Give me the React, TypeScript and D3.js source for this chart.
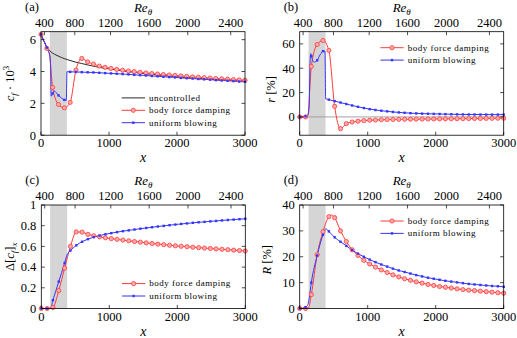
import React from "react";
import * as d3 from "d3";

type Pt = [number, number];

// stations where the markers sit
const markX = [0, 86, 171, 257, 343, 429, 514, 600, 686, 771, 857, 943, 1029, 1114, 1200, 1286, 1371, 1457,
  1543, 1629, 1714, 1800, 1886, 1971, 2057, 2143, 2229, 2314, 2400, 2486, 2571, 2657, 2743, 2829, 2914, 3000];
const controlRegion = [130, 380];
const xTicks = [0, 1000, 2000, 3000];
const reTicks = [400, 800, 1200, 1600, 2000, 2400];
const reTickX = [50, 497, 1022, 1586, 2158, 2790];

const cfUncontrolled: Pt[] = [[0, 6.35], [25, 6.05], [50, 5.85], [100, 5.45], [150, 5.22], [200, 5.08], [250, 4.98],
  [300, 4.88], [400, 4.73], [500, 4.6], [600, 4.5], [700, 4.4], [800, 4.31], [900, 4.23], [1000, 4.17], [1200, 4.04],
  [1400, 3.93], [1600, 3.83], [1800, 3.75], [2000, 3.67], [2200, 3.6], [2400, 3.54], [2600, 3.49], [2800, 3.44], [3000, 3.4]];
const cfBodyForce: Pt[] = [[0, 6.33], [86, 5.45], [128, 5.0], [150, 3.9], [171, 3.0], [257, 1.93], [343, 1.72],
  [429, 2.06], [514, 4.09], [600, 4.82], [686, 4.6], [771, 4.47], [857, 4.34], [943, 4.26], [1029, 4.19], [1114, 4.13],
  [1200, 4.08], [1286, 4.03], [1371, 3.99], [1457, 3.95], [1543, 3.91], [1629, 3.87], [1714, 3.84], [1800, 3.81],
  [1886, 3.78], [1971, 3.75], [2057, 3.72], [2143, 3.69], [2229, 3.66], [2314, 3.64], [2400, 3.61], [2486, 3.59],
  [2571, 3.56], [2657, 3.54], [2743, 3.52], [2829, 3.49], [2914, 3.47], [3000, 3.45]];
const cfBlowing: Pt[] = [[0, 6.33], [86, 5.5], [125, 5.1], [140, 4.5], [150, 2.45], [171, 2.62], [196, 2.77],
  [257, 2.5], [343, 2.22], [372, 2.18], [382, 3.99], [429, 3.98], [514, 3.97], [600, 3.96], [686, 3.95], [771, 3.94],
  [857, 3.92], [943, 3.9], [1029, 3.88], [1114, 3.86], [1200, 3.84], [1286, 3.82], [1371, 3.79], [1457, 3.77],
  [1543, 3.75], [1629, 3.72], [1714, 3.7], [1800, 3.67], [1886, 3.65], [1971, 3.63], [2057, 3.6], [2143, 3.58],
  [2229, 3.56], [2314, 3.53], [2400, 3.51], [2486, 3.49], [2571, 3.46], [2657, 3.44], [2743, 3.42], [2829, 3.4],
  [2914, 3.37], [3000, 3.35]];

const rBodyForce: Pt[] = [[0, 0], [86, 0], [125, 1], [150, 25], [171, 41.5], [257, 59.5], [343, 62.8], [429, 54.6],
  [514, 8.7], [600, -9.6], [686, -5.5], [771, -4.2], [857, -3.5], [943, -3.0], [1029, -2.7], [1114, -2.5], [1200, -2.3],
  [1286, -2.2], [1371, -2.1], [1457, -2.0], [1543, -1.9], [1629, -1.85], [1714, -1.8], [1800, -1.75], [1886, -1.7],
  [1971, -1.65], [2057, -1.6], [2143, -1.55], [2229, -1.5], [2314, -1.45], [2400, -1.4], [2486, -1.35], [2571, -1.3],
  [2657, -1.25], [2743, -1.2], [2829, -1.15], [2914, -1.1], [3000, -1.05]];
const rBlowing: Pt[] = [[0, 0], [86, 0.5], [120, 2], [140, 10], [152, 45], [162, 52], [171, 50], [210, 45],
  [257, 46.5], [300, 51], [343, 54], [372, 54], [382, 15], [429, 14.2], [514, 13], [600, 11.8], [686, 10.6],
  [771, 9.4], [857, 8.3], [943, 7.3], [1029, 6.4], [1114, 5.7], [1200, 5.1], [1286, 4.6], [1371, 4.1], [1457, 3.7],
  [1543, 3.4], [1629, 3.1], [1714, 2.9], [1800, 2.7], [1886, 2.6], [1971, 2.5], [2057, 2.4], [2143, 2.3], [2229, 2.2],
  [2314, 2.1], [2400, 2.05], [2486, 2.0], [2571, 2.0], [2657, 1.95], [2743, 1.95], [2829, 1.9], [2914, 1.9], [3000, 1.9]];

const dcfBodyForce: Pt[] = [[0, 0], [86, 0], [171, 0.01], [257, 0.174], [343, 0.39], [429, 0.6], [514, 0.74],
  [600, 0.738], [686, 0.716], [771, 0.703], [857, 0.692], [943, 0.683], [1029, 0.675], [1114, 0.668], [1200, 0.661],
  [1286, 0.654], [1371, 0.647], [1457, 0.641], [1543, 0.634], [1629, 0.628], [1714, 0.622], [1800, 0.617],
  [1886, 0.611], [1971, 0.606], [2057, 0.601], [2143, 0.597], [2229, 0.592], [2314, 0.588], [2400, 0.584],
  [2486, 0.58], [2571, 0.576], [2657, 0.572], [2743, 0.568], [2829, 0.564], [2914, 0.56], [3000, 0.556]];
const dcfBlowing: Pt[] = [[0, 0], [86, 0], [135, 0], [171, 0.08], [257, 0.26], [343, 0.44], [377, 0.515],
  [429, 0.56], [514, 0.61], [600, 0.645], [686, 0.67], [771, 0.69], [857, 0.705], [943, 0.717], [1029, 0.728],
  [1114, 0.738], [1200, 0.747], [1286, 0.755], [1371, 0.763], [1457, 0.771], [1543, 0.778], [1629, 0.785],
  [1714, 0.792], [1800, 0.798], [1886, 0.805], [1971, 0.811], [2057, 0.817], [2143, 0.822], [2229, 0.828],
  [2314, 0.833], [2400, 0.837], [2486, 0.842], [2571, 0.846], [2657, 0.851], [2743, 0.855], [2829, 0.859],
  [2914, 0.863], [3000, 0.867]];

const RBodyForce: Pt[] = [[0, 0], [86, 0], [130, 0.3], [171, 5.4], [257, 20.8], [343, 29.7], [429, 35.5],
  [470, 36.1], [514, 35.1], [600, 30], [686, 25.9], [771, 22.7], [857, 20.5], [943, 18.6], [1029, 17.2],
  [1114, 16.0], [1200, 14.9], [1286, 13.9], [1371, 13.0], [1457, 12.2], [1543, 11.5], [1629, 10.9], [1714, 10.3],
  [1800, 9.8], [1886, 9.3], [1971, 8.9], [2057, 8.5], [2143, 8.2], [2229, 7.9], [2314, 7.6], [2400, 7.3],
  [2486, 7.1], [2571, 6.9], [2657, 6.7], [2743, 6.5], [2829, 6.3], [2914, 6.1], [3000, 5.9]];
const RBlowing: Pt[] = [[0, 0], [86, 0.5], [120, 1.5], [140, 4], [171, 10], [257, 20.5], [343, 28.5],
  [385, 30.8], [429, 29.8], [514, 27.5], [600, 25.8], [686, 24.2], [771, 22.6], [857, 21.2], [943, 20.0],
  [1029, 18.9], [1114, 17.9], [1200, 17.0], [1286, 16.2], [1371, 15.4], [1457, 14.7], [1543, 14.1], [1629, 13.5],
  [1714, 12.9], [1800, 12.4], [1886, 11.9], [1971, 11.5], [2057, 11.1], [2143, 10.7], [2229, 10.4], [2314, 10.1],
  [2400, 9.8], [2486, 9.5], [2571, 9.3], [2657, 9.1], [2743, 8.9], [2829, 8.7], [2914, 8.6], [3000, 8.4]];

const RED = "#ff3a3a";
const BLUE = "#3535ff";
const FONT = "'Liberation Serif', 'DejaVu Serif', serif";
const W = 204;
const H = 103.5;
const markSet = new Set(markX);

type Series = { data: Pt[]; color: string; mark?: "o" | "s"; label: string };

const Marker = ({ kind, cx, cy, color }: { kind?: string; cx: number; cy: number; color: string }) => {
  if (kind === "o") return <circle cx={cx} cy={cy} r={2.1} fill="#ffaaaa" stroke={color} strokeWidth={0.8} />;
  if (kind === "s") return <rect x={cx - 1.2} y={cy - 1.2} width={2.4} height={2.4} fill={color} />;
  return null;
};

const Panel = (props: {
  id: string; left: number; top: number; yDomain: [number, number]; yTicks: number[];
  tag: string; yLabel: React.ReactNode; yLabelX: number; yLabelDy?: number; series: Series[];
  legendTop: boolean; zeroLine?: boolean;
}) => {
  const { id, left, top, yDomain, yTicks, tag, yLabel, yLabelX, yLabelDy = 0, series, legendTop, zeroLine } = props;
  const bottom = top + H;
  const right = left + W;
  const x = d3.scaleLinear().domain([0, 3000]).range([left, right]);
  const y = d3.scaleLinear().domain(yDomain).range([bottom, top]);
  const re = d3.scaleLinear().domain(reTicks).range(reTickX.map((v) => x(v)));
  const line = d3.line<Pt>().x((d) => x(d[0])).y((d) => y(d[1])).curve(d3.curveMonotoneX);
  const tl = 3.5;
  const rowY = (i: number) =>
    legendTop ? top + 16 + i * 12.4 : bottom - 12.5 - (series.length - 1 - i) * 12.4;

  return (
    <g fontFamily={FONT}>
      <defs>
        <clipPath id={`clip-${id}`}>
          <rect x={left} y={top} width={W} height={H} />
        </clipPath>
      </defs>
      <rect x={x(controlRegion[0])} y={top} width={x(controlRegion[1]) - x(controlRegion[0])} height={H} fill="#d5d5d5" />
      {zeroLine && <line x1={left} x2={right} y1={y(0)} y2={y(0)} stroke="#9a9a9a" strokeWidth={0.9} />}
      <g clipPath={`url(#clip-${id})`}>
        {series.map((s, i) => (
          <path key={i} d={line(s.data) || ""} fill="none" stroke={s.color} strokeWidth={1} />
        ))}
      </g>
      {series.map((s, i) =>
        s.mark
          ? s.data.filter((d) => markSet.has(d[0])).map((d, j) => (
              <Marker key={`${i}-${j}`} kind={s.mark} cx={x(d[0])} cy={y(d[1])} color={s.color} />
            ))
          : null
      )}
      <rect x={left} y={top} width={W} height={H} fill="none" stroke="#000" strokeWidth={0.8} />
      {yTicks.map((t) => (
        <g key={t}>
          <line x1={left} x2={left + tl} y1={y(t)} y2={y(t)} stroke="#000" strokeWidth={0.7} />
          <line x1={right} x2={right - tl} y1={y(t)} y2={y(t)} stroke="#000" strokeWidth={0.7} />
          <text x={left - 5} y={y(t)} dy="0.35em" textAnchor="end" fontSize={12.5}>{t}</text>
        </g>
      ))}
      {xTicks.map((t) => (
        <g key={t}>
          <line x1={x(t)} x2={x(t)} y1={bottom} y2={bottom - tl} stroke="#000" strokeWidth={0.7} />
          <text x={x(t)} y={bottom + 12} textAnchor="middle" fontSize={12.5}>{t}</text>
        </g>
      ))}
      {reTicks.map((t) => (
        <g key={t}>
          <line x1={re(t)} x2={re(t)} y1={top} y2={top + tl} stroke="#000" strokeWidth={0.7} />
          <text x={re(t)} y={top - 5} textAnchor="middle" fontSize={12.5}>{t}</text>
        </g>
      ))}
      <text x={(left + right) / 2} y={top - 20} textAnchor="middle" fontSize={13}>
        <tspan fontStyle="italic">Re</tspan>
        <tspan fontStyle="italic" fontSize={9} dy={3}>θ</tspan>
      </text>
      <text x={(left + right) / 2} y={bottom + 27} textAnchor="middle" fontSize={14} fontStyle="italic">x</text>
      <text x={left - 16} y={top - 21} fontSize={12.5}>{tag}</text>
      <text transform={`translate(${yLabelX},${(top + bottom) / 2 + yLabelDy}) rotate(-90)`} textAnchor="middle" dy="0.35em" fontSize={12.5}>
        {yLabel}
      </text>
      {series.map((s, i) => (
        <g key={s.label}>
          <line x1={left + 80.7} x2={left + 104} y1={rowY(i)} y2={rowY(i)} stroke={s.color} strokeWidth={1} />
          <Marker kind={s.mark} cx={left + 92.3} cy={rowY(i)} color={s.color} />
          <text x={left + 108} y={rowY(i)} dy="0.32em" fontSize={9} letterSpacing={0.5}>{s.label}</text>
        </g>
      ))}
    </g>
  );
};

const App = () => {
  const bodyLabel = "body force damping";
  const blowLabel = "uniform blowing";
  return (
    <svg width={517} height={338} style={{ position: "absolute", left: 0, top: 0, background: "#fff" }}>
      <Panel
        id="a" left={41} top={31.7} yDomain={[0, 6.5]} yTicks={[0, 2, 4, 6]} tag="(a)" yLabelX={10} legendTop={false}
        yLabel={<>
          <tspan fontStyle="italic">c</tspan>
          <tspan fontStyle="italic" fontSize={9} dy={3}>f</tspan>
          <tspan dy={-3}>{" · 10"}</tspan>
          <tspan fontSize={9} dy={-5}>3</tspan>
        </>}
        series={[
          { data: cfUncontrolled, color: "#2a2a2a", label: "uncontrolled" },
          { data: cfBodyForce, color: RED, mark: "o", label: bodyLabel },
          { data: cfBlowing, color: BLUE, mark: "s", label: blowLabel },
        ]}
      />
      <Panel
        id="b" left={299.7} top={31.7} yDomain={[-15, 70]} yTicks={[0, 20, 40, 60]} tag="(b)" yLabelX={271} yLabelDy={6}
        legendTop zeroLine
        yLabel={<>
          <tspan fontStyle="italic">r</tspan>
          <tspan>{" [%]"}</tspan>
        </>}
        series={[
          { data: rBodyForce, color: RED, mark: "o", label: bodyLabel },
          { data: rBlowing, color: BLUE, mark: "s", label: blowLabel },
        ]}
      />
      <Panel
        id="c" left={41.3} top={205} yDomain={[0, 1]} yTicks={[0, 0.2, 0.4, 0.6, 0.8, 1]} tag="(c)" yLabelX={10} legendTop={false}
        yLabel={<>
          <tspan>Δ[</tspan>
          <tspan fontStyle="italic">c</tspan>
          <tspan fontStyle="italic" fontSize={9} dy={3}>f</tspan>
          <tspan dy={-3}>]</tspan>
          <tspan fontStyle="italic" fontSize={9} dy={3}>x</tspan>
        </>}
        series={[
          { data: dcfBodyForce, color: RED, mark: "o", label: bodyLabel },
          { data: dcfBlowing, color: BLUE, mark: "s", label: blowLabel },
        ]}
      />
      <Panel
        id="d" left={299.7} top={205} yDomain={[0, 40]} yTicks={[0, 10, 20, 30, 40]} tag="(d)" yLabelX={267} yLabelDy={3}
        legendTop
        yLabel={<>
          <tspan fontStyle="italic">R</tspan>
          <tspan>{" [%]"}</tspan>
        </>}
        series={[
          { data: RBodyForce, color: RED, mark: "o", label: bodyLabel },
          { data: RBlowing, color: BLUE, mark: "s", label: blowLabel },
        ]}
      />
    </svg>
  );
};

export default App;
